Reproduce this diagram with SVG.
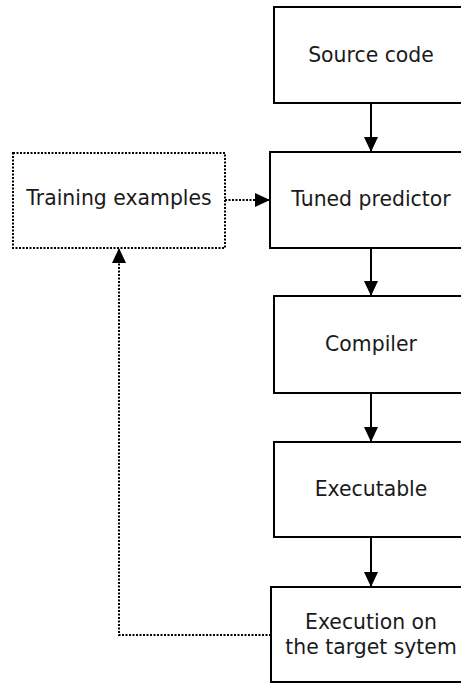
<svg xmlns="http://www.w3.org/2000/svg" width="461" height="683" viewBox="0 0 461 683">
  <defs>
    <style>
      .box { fill: #fff; stroke: #000; stroke-width: 2; }
      .dbox { fill: #fff; stroke: #000; stroke-width: 2; stroke-dasharray: 2 1.5; }
      .lbl { font-family: "DejaVu Sans", sans-serif; font-size: 20.4px; fill: #1a1a1a; text-anchor: middle; }
      .edge { fill: none; stroke: #000; stroke-width: 2; }
      .dedge { fill: none; stroke: #000; stroke-width: 2; stroke-dasharray: 2 1.5; }
    </style>
    <marker id="arrow" markerUnits="userSpaceOnUse" markerWidth="15" markerHeight="15" viewBox="0 0 15 15" refX="15" refY="7.5" orient="auto">
      <path d="M0,0.5 L15,7.5 L0,14.5 Z" fill="#000"/>
    </marker>
  </defs>
  <rect width="461" height="683" fill="#fff"/>

  <g id="connectors">
    <path class="edge" d="M371,103 V152" marker-end="url(#arrow)"/>
    <path class="edge" d="M371,248 V296" marker-end="url(#arrow)"/>
    <path class="edge" d="M371,393 V442" marker-end="url(#arrow)"/>
    <path class="edge" d="M371,537 V587" marker-end="url(#arrow)"/>
    <path class="dedge" d="M225,200 H270" marker-end="url(#arrow)"/>
    <path class="dedge" d="M271,635 H119 V248" marker-end="url(#arrow)"/>
  </g>

  <g id="source-code">
    <rect class="box" x="274" y="7" width="200" height="96"/>
    <text class="lbl" x="371" y="62">Source code</text>
  </g>
  <g id="tuned-predictor">
    <rect class="box" x="270" y="152" width="204" height="96"/>
    <text class="lbl" x="371" y="206">Tuned predictor</text>
  </g>
  <g id="training-examples">
    <rect class="dbox" x="13" y="153" width="212" height="95"/>
    <text class="lbl" x="119" y="205">Training examples</text>
  </g>
  <g id="compiler">
    <rect class="box" x="274" y="296" width="200" height="97"/>
    <text class="lbl" x="371" y="351">Compiler</text>
  </g>
  <g id="executable">
    <rect class="box" x="274" y="442" width="200" height="95"/>
    <text class="lbl" x="371" y="496">Executable</text>
  </g>
  <g id="execution">
    <rect class="box" x="271" y="587" width="203" height="95"/>
    <text class="lbl" x="371" y="629">Execution on</text>
    <text class="lbl" x="371" y="654">the target sytem</text>
  </g>
</svg>
